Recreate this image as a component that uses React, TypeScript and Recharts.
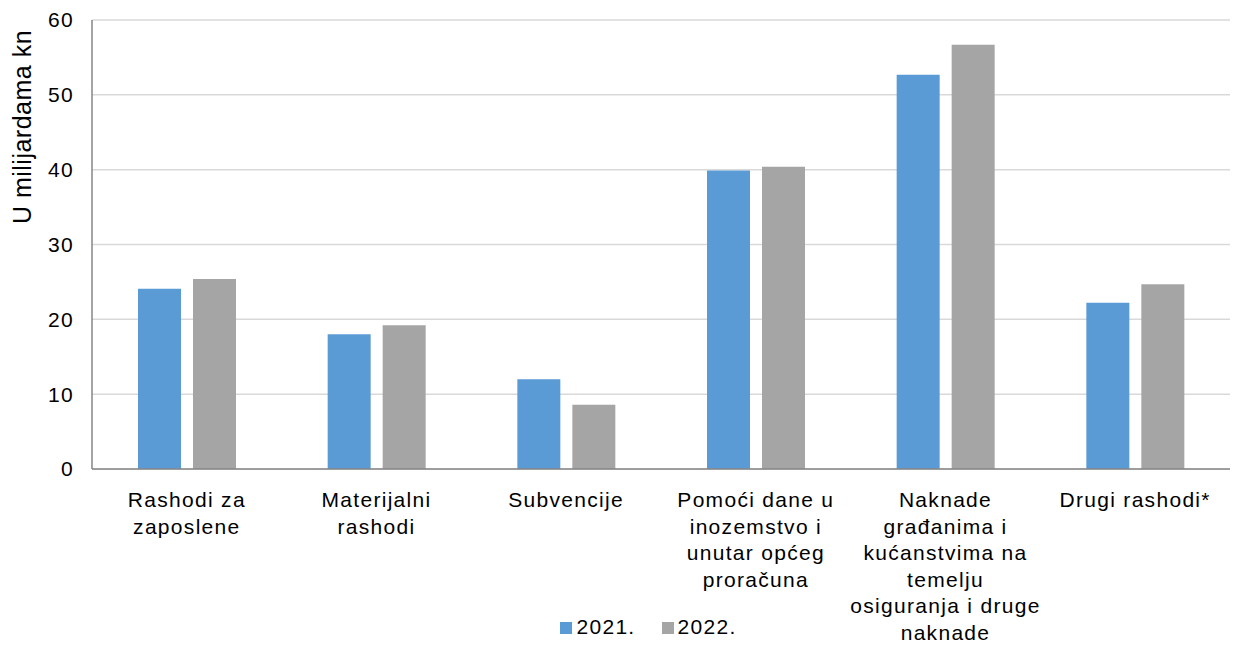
import React from 'react';
import { BarChart, Bar, XAxis, YAxis, CartesianGrid, Legend } from 'recharts';

const categories = [
  'Rashodi za\nzaposlene',
  'Materijalni\nrashodi',
  'Subvencije',
  'Pomoći dane u\ninozemstvo i\nunutar općeg\nproračuna',
  'Naknade\ngrađanima i\nkućanstvima na\ntemelju\nosiguranja i druge\nnaknade',
  'Drugi rashodi*',
];
const values2021 = [24.1, 18.0, 12.0, 39.9, 52.7, 22.2];
const values2022 = [25.4, 19.2, 8.6, 40.4, 56.7, 24.7];
const yTicks = [0, 10, 20, 30, 40, 50, 60];

const data = categories.map((name, i) => ({
  name,
  y2021: values2021[i],
  y2022: values2022[i],
}));

const FONT = '"Liberation Sans", Arial, sans-serif';

const CategoryTick = (props: any) => {
  const { x, y, payload } = props;
  const lines: string[] = String(payload.value).split('\n');
  return (
    <text x={x} y={y} textAnchor="middle" fill="#000" fontSize={21} letterSpacing={1.3} fontFamily={FONT}>
      {lines.map((line, i) => (
        <tspan key={i} x={x} dy={i === 0 ? 30 : 26.6}>
          {line}
        </tspan>
      ))}
    </text>
  );
};

const YLabel = (props: any) => {
  const vb = props.viewBox || { x: 32, y: 20 };
  const x = vb.x - 1;
  const y = vb.y + 107;
  return (
    <text
      x={x}
      y={y}
      transform={`rotate(-90, ${x}, ${y})`}
      textAnchor="middle"
      fill="#000"
      fontSize={25}
      letterSpacing={0.5}
      fontFamily={FONT}
    >
      U milijardama kn
    </text>
  );
};

export default function App() {
  return (
    <div style={{ position: 'absolute', left: 0, top: 0, width: 1237, height: 645, background: '#fff' }}>
      <BarChart
        width={1237}
        height={645}
        data={data}
        margin={{ top: 20, right: 7, left: 32, bottom: 0 }}
        barSize={43}
        barGap={12}
      >
        <CartesianGrid vertical={false} stroke="#d9d9d9" strokeWidth={1.5} />
        <XAxis
          dataKey="name"
          tick={<CategoryTick />}
          tickLine={false}
          axisLine={{ stroke: '#868686', strokeWidth: 1.5 }}
          interval={0}
          height={176}
        />
        <YAxis
          domain={[0, 60]}
          ticks={yTicks}
          width={60}
          tickLine={false}
          axisLine={{ stroke: '#868686', strokeWidth: 1.5 }}
          tick={{ fill: '#000', fontSize: 21, letterSpacing: 1.3, fontFamily: FONT }}
          tickMargin={12}
          label={<YLabel />}
        />
        <Legend
          verticalAlign="middle"
          iconType="square"
          iconSize={12}
          wrapperStyle={{ top: 615, left: 35, width: 1237, fontFamily: FONT, fontSize: 21, letterSpacing: 1.3 }}
          formatter={(value: string, _entry: any, index: number) => (
            <span style={{ color: '#000', marginRight: index === 0 ? 16 : 0 }}>{value}</span>
          )}
        />
        <Bar dataKey="y2021" name="2021." fill="#5B9BD5" isAnimationActive={false} />
        <Bar dataKey="y2022" name="2022." fill="#A5A5A5" isAnimationActive={false} />
      </BarChart>
    </div>
  );
}
